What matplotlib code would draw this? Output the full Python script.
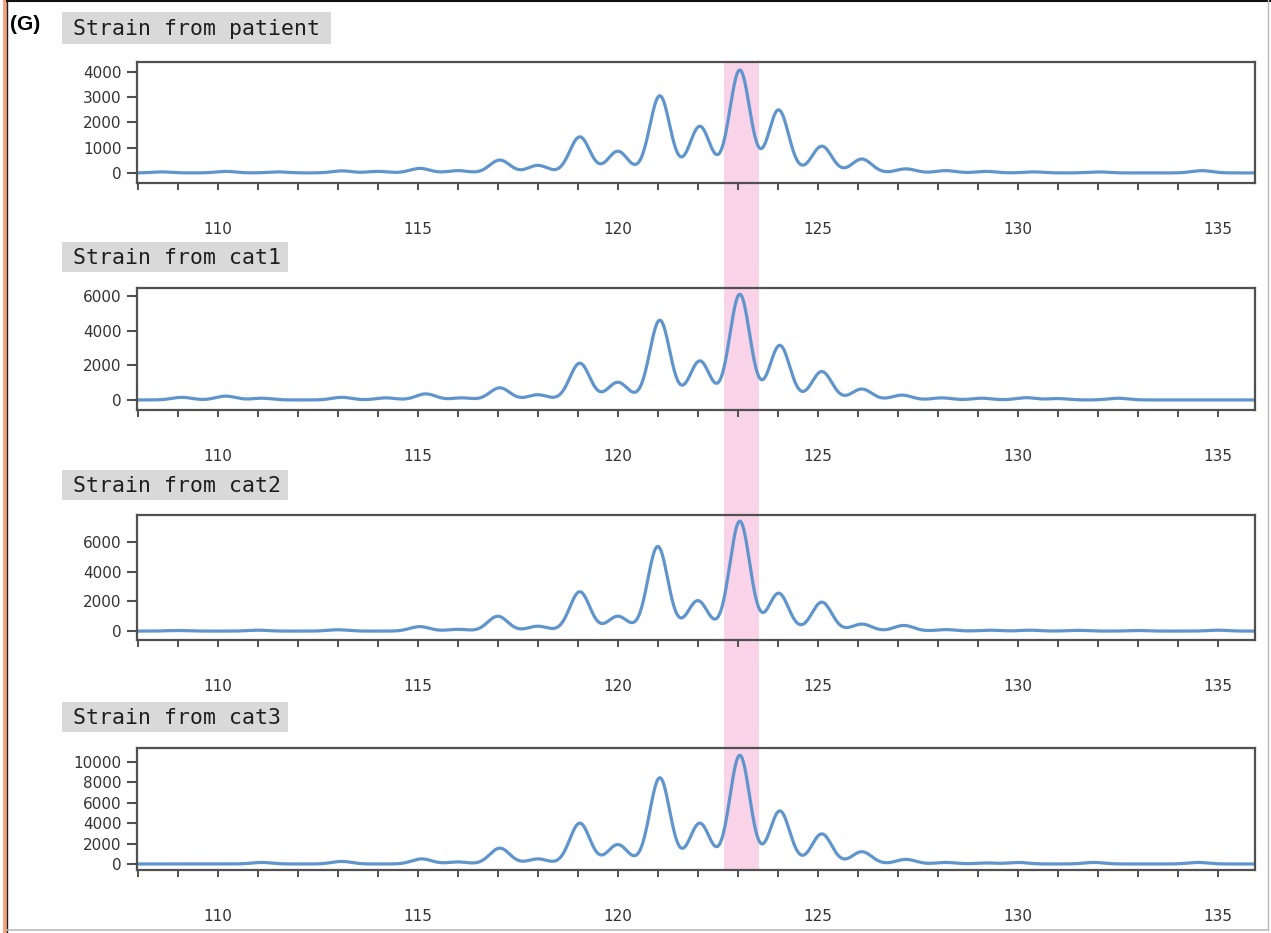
import numpy as np
import matplotlib
matplotlib.use("Agg")
import matplotlib.pyplot as plt
from matplotlib.patches import Rectangle
from matplotlib.lines import Line2D
import matplotlib.transforms as mtransforms

# Panel titles
titles = ["Strain from patient", "Strain from cat1", "Strain from cat2", "Strain from cat3"]

# Peak positions (bp) and heights (RFU)
patient_pos = [108.6, 110.2, 111.5, 113.1, 114.0, 115.05, 116.0, 117.05, 118.0, 119.05, 120.0,
               121.05, 122.05, 123.05, 124.02, 125.1, 126.1, 127.2, 128.2, 129.2, 130.4, 132.0, 134.6]
patient_h = [40, 60, 40, 80, 60, 180, 90, 510, 300, 1430, 860,
             3060, 1850, 4080, 2500, 1060, 550, 160, 90, 60, 40, 40, 90]

cat1_pos = [109.1, 110.2, 111.1, 113.1, 114.2, 115.2, 116.1, 117.05, 118.0, 119.05, 120.0,
            121.05, 122.05, 123.05, 124.05, 125.1, 126.1, 127.1, 128.1, 129.1, 130.2, 131.0, 132.5]
cat1_h = [150, 220, 100, 150, 120, 350, 120, 700, 300, 2120, 1020,
          4600, 2250, 6100, 3150, 1640, 630, 280, 120, 100, 130, 80, 100]

cat2_pos = [109.0, 111.0, 113.0, 115.05, 116.0, 117.0, 118.0, 119.05, 120.0, 121.0, 122.0,
            123.05, 124.02, 125.1, 126.1, 127.15, 128.2, 129.3, 130.3, 131.5, 133.0, 135.0]
cat2_h = [40, 60, 90, 300, 120, 1000, 330, 2650, 1000, 5700, 2050,
          7400, 2550, 1950, 470, 380, 100, 60, 60, 50, 40, 60]

cat3_pos = [111.1, 113.1, 115.1, 116.0, 117.05, 118.0, 119.05, 120.0, 121.05, 122.05, 123.05,
            124.05, 125.1, 126.1, 127.2, 128.2, 129.2, 130.0, 131.9, 134.5]
cat3_h = [150, 250, 500, 200, 1550, 500, 4000, 1900, 8450, 4000, 10650,
          5200, 2950, 1200, 450, 150, 100, 150, 150, 150]

peaks = [(patient_pos, patient_h), (cat1_pos, cat1_h), (cat2_pos, cat2_h), (cat3_pos, cat3_h)]
yticks = [[0, 1000, 2000, 3000, 4000], [0, 2000, 4000, 6000], [0, 2000, 4000, 6000],
          [0, 2000, 4000, 6000, 8000, 10000]]
ylims = [(-400, 4400), (-580, 6460), (-600, 7820), (-590, 11370)]

# highlighted allele window
band = (122.65, 123.53)

W, H = 1271, 933
fig = plt.figure(figsize=(W / 100, H / 100), dpi=100)

def fx(px):
    return px / W

def fy(py):
    return 1 - py / H

# axes boxes in pixels: (top, bottom)
ax_rows = [(62, 183), (288, 410), (515, 640), (748, 870)]
label_rows = [(12, 44, 331), (242, 272, 288), (470, 500, 288), (702, 732, 288)]
left, right = 137, 1255

x = np.linspace(107.9, 136.0, 3000)
sigma = 0.25
line_color = "#5F95CC"
spine_color = "#505050"

axes = []
for i in range(4):
    top, bot = ax_rows[i]
    ax = fig.add_axes([fx(left), fy(bot), fx(right - left), (bot - top) / H])
    ax.set_facecolor("none")
    pos, hts = peaks[i]
    y = np.zeros_like(x)
    for p, h in zip(pos, hts):
        y += h * np.exp(-0.5 * ((x - p) / sigma) ** 2)
    ax.plot(x, y, color=line_color, lw=2.3, solid_capstyle="round")
    ax.set_xlim(107.98, 135.93)
    ax.set_ylim(*ylims[i])
    ax.set_yticks(yticks[i])
    ax.set_xticks([110, 115, 120, 125, 130, 135])
    ax.set_xticks(np.arange(108, 136), minor=True)
    for s in ax.spines.values():
        s.set_color(spine_color)
        s.set_linewidth(1.6)
    ax.tick_params(axis="y", direction="out", length=7, width=1.5, color=spine_color,
                   pad=4, labelsize=11, labelcolor="#333333")
    ax.tick_params(axis="x", which="both", direction="out", length=5, width=1.4,
                   color=spine_color, pad=23, labelsize=11, labelcolor="#333333")
    axes.append(ax)

    # gray title box
    ty0, ty1, tx1 = label_rows[i]
    fig.add_artist(Rectangle((fx(62), fy(ty1)), fx(tx1 - 62), (ty1 - ty0) / H,
                             transform=fig.transFigure, facecolor="#D9D9D9",
                             edgecolor="none", zorder=1))
    fig.text(fx(73), fy((ty0 + ty1) / 2 + 1), titles[i], family="DejaVu Sans Mono",
             fontsize=15.5, color="#1E1E1E", va="center", ha="left", zorder=2)

# pink highlight across all panels
trans = mtransforms.blended_transform_factory(axes[0].transData, fig.transFigure)
fig.add_artist(Rectangle((band[0], fy(870)), band[1] - band[0], (870 - 62) / H,
                         transform=trans, facecolor="#F9D3E7", edgecolor="none", zorder=-1))

fig.text(fx(10), fy(24), "(G)", family="Liberation Sans", fontweight="bold",
         fontsize=15, va="center", ha="left")

# page borders
fig.add_artist(Line2D([fx(4.5), fx(4.5)], [0, 1], color="#F2A27E", lw=3.5))
fig.add_artist(Line2D([fx(7), fx(7)], [0, 1], color="#222222", lw=1.0))
fig.add_artist(Line2D([fx(7), 1], [fy(1), fy(1)], color="#111111", lw=1.5))
fig.add_artist(Line2D([fx(7), fx(1268)], [fy(930), fy(930)], color="#BBBBBB", lw=1.2))
fig.add_artist(Line2D([fx(1268), fx(1268)], [fy(930), 1], color="#BBBBBB", lw=1.0))

plt.savefig("out.png", dpi=100)
